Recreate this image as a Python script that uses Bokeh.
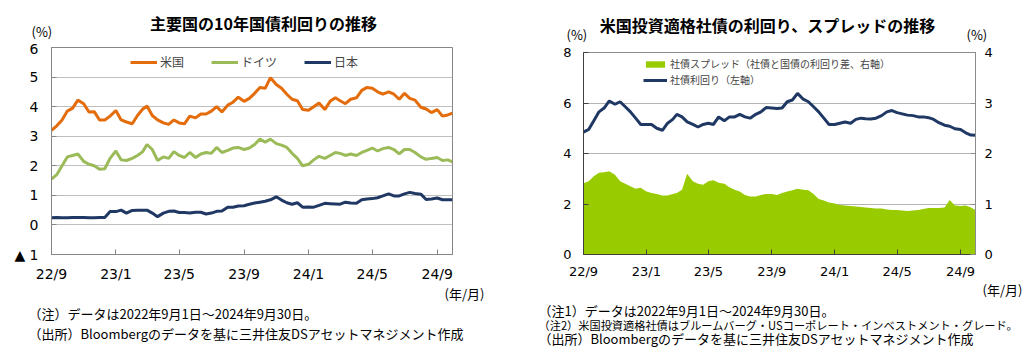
from datetime import date
from bokeh.plotting import figure
from bokeh.models import (Range1d, LinearAxis, FixedTicker, Label, Legend,
                          LegendItem, ColumnDataSource)
from bokeh.layouts import row, column
from bokeh.embed import file_html
from bokeh.resources import INLINE

# ---------------- data ----------------
START = date(2022, 9, 1)
months = [(2022, m) for m in range(9, 13)] + [(2023, m) for m in range(1, 13)] + [(2024, m) for m in range(1, 10)]
sample_dates = [date(y, m, d) for (y, m) in months for d in (1, 11, 21)] + [date(2024, 9, 30)]

us_10y = [3.20, 3.35, 3.55, 3.85, 3.95, 4.22, 4.10, 3.82, 3.83, 3.55, 3.55, 3.68,
          3.87, 3.55, 3.48, 3.42, 3.70, 3.92, 4.02, 3.70, 3.55, 3.45, 3.40, 3.55,
          3.45, 3.42, 3.68, 3.62, 3.75, 3.75, 3.85, 4.00, 3.82, 4.05, 4.15, 4.32,
          4.18, 4.28, 4.45, 4.65, 4.62, 4.98, 4.75, 4.62, 4.42, 4.25, 4.20, 3.90,
          3.88, 4.00, 4.12, 3.90, 4.18, 4.30, 4.20, 4.10, 4.25, 4.30, 4.55, 4.65,
          4.62, 4.50, 4.42, 4.50, 4.42, 4.25, 4.45, 4.28, 4.22, 3.98, 3.92, 3.80,
          3.90, 3.68, 3.72, 3.78]
de_10y = [1.55, 1.70, 2.00, 2.30, 2.35, 2.40, 2.15, 2.05, 2.00, 1.88, 1.90, 2.25,
          2.50, 2.20, 2.18, 2.25, 2.35, 2.48, 2.72, 2.55, 2.18, 2.30, 2.25, 2.48,
          2.35, 2.28, 2.45, 2.28, 2.40, 2.45, 2.42, 2.62, 2.45, 2.52, 2.60, 2.62,
          2.55, 2.60, 2.72, 2.90, 2.80, 2.90, 2.75, 2.70, 2.62, 2.42, 2.25, 2.00,
          2.05, 2.20, 2.32, 2.25, 2.35, 2.45, 2.42, 2.35, 2.40, 2.35, 2.45, 2.52,
          2.60, 2.50, 2.58, 2.62, 2.55, 2.40, 2.55, 2.55, 2.45, 2.30, 2.22, 2.25,
          2.28, 2.18, 2.20, 2.13]
jp_10y = [0.24, 0.25, 0.24, 0.24, 0.25, 0.25, 0.25, 0.24, 0.24, 0.25, 0.25, 0.45,
          0.45, 0.50, 0.40, 0.49, 0.50, 0.50, 0.50, 0.40, 0.28, 0.40, 0.46, 0.47,
          0.42, 0.42, 0.40, 0.43, 0.43, 0.37, 0.40, 0.46, 0.47, 0.60, 0.60, 0.64,
          0.65, 0.70, 0.74, 0.77, 0.80, 0.85, 0.95, 0.84, 0.75, 0.70, 0.75, 0.60,
          0.61, 0.60, 0.66, 0.73, 0.72, 0.71, 0.70, 0.77, 0.74, 0.73, 0.85, 0.88,
          0.89, 0.92, 0.98, 1.05, 0.98, 0.98, 1.05, 1.10, 1.06, 1.04, 0.86, 0.88,
          0.91, 0.85, 0.85, 0.85]
corp_yield = [4.85, 4.95, 5.30, 5.65, 5.80, 6.08, 5.95, 6.05, 5.85, 5.65, 5.40, 5.15,
              5.15, 5.15, 5.00, 4.92, 5.20, 5.35, 5.55, 5.45, 5.25, 5.15, 5.05, 5.15,
              5.20, 5.15, 5.45, 5.30, 5.45, 5.45, 5.55, 5.45, 5.40, 5.55, 5.65, 5.82,
              5.80, 5.78, 5.80, 6.05, 6.12, 6.38, 6.15, 6.05, 5.85, 5.65, 5.40, 5.15,
              5.15, 5.20, 5.25, 5.20, 5.35, 5.40, 5.38, 5.37, 5.40, 5.50, 5.65, 5.70,
              5.62, 5.57, 5.52, 5.50, 5.45, 5.45, 5.42, 5.35, 5.22, 5.12, 5.08, 4.98,
              4.95, 4.82, 4.73, 4.72]
spread = [1.41, 1.45, 1.55, 1.62, 1.63, 1.65, 1.58, 1.45, 1.40, 1.35, 1.30, 1.32,
          1.25, 1.22, 1.20, 1.17, 1.17, 1.20, 1.22, 1.28, 1.60, 1.45, 1.40, 1.38,
          1.45, 1.47, 1.42, 1.40, 1.33, 1.28, 1.25, 1.18, 1.15, 1.15, 1.18, 1.20,
          1.20, 1.18, 1.22, 1.25, 1.27, 1.30, 1.28, 1.27, 1.20, 1.10, 1.07, 1.03,
          1.01, 0.98, 0.97, 0.96, 0.95, 0.94, 0.93, 0.92, 0.91, 0.91, 0.89, 0.88,
          0.88, 0.87, 0.86, 0.87, 0.88, 0.90, 0.92, 0.92, 0.92, 0.93, 1.08, 0.97,
          0.96, 0.97, 0.93, 0.88]

tick_dates = [date(2022, 9, 1), date(2023, 1, 1), date(2023, 5, 1), date(2023, 9, 1),
              date(2024, 1, 1), date(2024, 5, 1), date(2024, 9, 1)]
tick_labels = ["22/9", "23/1", "23/5", "23/9", "24/1", "24/5", "24/9"]
END = date(2024, 9, 30)

left_title = "主要国の10年国債利回りの推移"
right_title = "米国投資適格社債の利回り、スプレッドの推移"
left_notes = ["（注）データは2022年9月1日～2024年9月30日。",
              "（出所）Bloombergのデータを基に三井住友DSアセットマネジメント作成"]
right_notes = ["（注1）データは2022年9月1日～2024年9月30日。",
               "（注2）米国投資適格社債はブルームバーグ・USコーポレート・インベストメント・グレード。",
               "（出所）Bloombergのデータを基に三井住友DSアセットマネジメント作成"]

# ---------------- helpers ----------------
JP = "Noto Sans CJK JP"
NUM = "DejaVu Sans"

xs = [(d - START).days for d in sample_dates]
tick_x = [(d - START).days for d in tick_dates]
x_end = (END - START).days

src = ColumnDataSource(dict(x=xs, us=us_10y, de=de_10y, jp=jp_10y,
                            corp=corp_yield, spread=spread))


def text_strip(width, height):
    """A figure whose frame fills the whole canvas; y counts pixels from its top."""
    s = figure(width=width, height=height, x_range=Range1d(0, width), y_range=Range1d(height, 0),
               output_backend="svg", toolbar_location=None, frame_align=False,
               x_axis_location=None, y_axis_location=None,
               min_border_left=0, min_border_right=0, min_border_top=0, min_border_bottom=0)
    s.outline_line_color = None
    s.xgrid.visible = False
    s.ygrid.visible = False
    return s


def add_text(s, x, y, text, size, font=JP, bold=False, align="left"):
    s.add_layout(Label(x=x, y=y, text=text, text_font=font, text_font_size=size,
                       text_font_style="bold" if bold else "normal",
                       text_align=align, text_baseline="middle", text_color="#000000"))


def style_axis(ax, line_color, size, standoff):
    ax.axis_line_color = line_color
    ax.major_tick_line_color = line_color
    ax.major_tick_in = 5
    ax.major_tick_out = 0
    ax.minor_tick_line_color = None
    ax.major_label_text_font = NUM
    ax.major_label_text_font_size = size
    ax.major_label_text_color = "#000000"
    ax.major_label_standoff = standoff


# ---------------- left chart ----------------
L_W = 520
L_TOP_H, L_BOT_H = 40, 68
p1 = figure(width=L_W, height=352 - L_TOP_H - L_BOT_H, x_range=Range1d(0, x_end),
            y_range=Range1d(-1, 6), output_backend="svg", toolbar_location=None, frame_align=False,
            min_border_left=51, min_border_right=68, min_border_top=7, min_border_bottom=30)
p1.outline_line_color = "#868686"
p1.xgrid.visible = False
p1.ygrid.grid_line_color = "#BFBFBF"
p1.ygrid.ticker = FixedTicker(ticks=[0, 1, 2, 3, 4, 5])
p1.yaxis.ticker = FixedTicker(ticks=[-1, 0, 1, 2, 3, 4, 5, 6])
p1.yaxis.major_label_overrides = {-1: "▲ 1"}
p1.xaxis.ticker = FixedTicker(ticks=tick_x)
p1.xaxis.major_label_overrides = dict(zip(tick_x, tick_labels))
style_axis(p1.yaxis[0], "#868686", "14px", 13)
style_axis(p1.xaxis[0], "#868686", "14px", 11)

r_jp = p1.line("x", "jp", source=src, line_color="#203864", line_width=3)
r_de = p1.line("x", "de", source=src, line_color="#9BBB59", line_width=3)
r_us = p1.line("x", "us", source=src, line_color="#E46C0A", line_width=3)

leg1 = Legend(items=[LegendItem(label="米国", renderers=[r_us]),
                     LegendItem(label="ドイツ", renderers=[r_de]),
                     LegendItem(label="日本", renderers=[r_jp])],
              orientation="horizontal", location=(79, 184), glyph_width=27, glyph_height=16,
              label_height=16, label_standoff=3, spacing=27, padding=0, margin=0,
              label_text_font=JP, label_text_font_size="12px",
              border_line_alpha=0, background_fill_alpha=0)
p1.add_layout(leg1)

t1 = text_strip(L_W, L_TOP_H)
add_text(t1, 263, 22, left_title, "16px", bold=True, align="center")
add_text(t1, 31, 31, "(%)", "13px")

b1 = text_strip(L_W, L_BOT_H)
add_text(b1, 444, 9, "(年/月)", "13px")
add_text(b1, 28, 29, left_notes[0], "13px")
add_text(b1, 28, 49, left_notes[1], "13px")

# ---------------- right chart ----------------
R_W = 515
R_TOP_H, R_BOT_H = 44, 71
p2 = figure(width=R_W, height=352 - R_TOP_H - R_BOT_H, x_range=Range1d(0, x_end),
            y_range=Range1d(0, 8), output_backend="svg", toolbar_location=None, frame_align=False,
            min_border_left=63, min_border_right=60, min_border_top=8, min_border_bottom=26)
p2.extra_y_ranges = {"right": Range1d(0, 4)}
p2.outline_line_color = "#8C8C8C"
p2.xgrid.visible = False
p2.ygrid.grid_line_color = "#B4B4B4"
p2.ygrid.ticker = FixedTicker(ticks=[2, 4, 6])
p2.yaxis.ticker = FixedTicker(ticks=[0, 2, 4, 6, 8])
p2.xaxis.ticker = FixedTicker(ticks=tick_x)
p2.xaxis.major_label_overrides = dict(zip(tick_x, tick_labels))
style_axis(p2.yaxis[0], "#404040", "13px", 12)
style_axis(p2.xaxis[0], "#404040", "13px", 9)
ax_r = LinearAxis(y_range_name="right", ticker=FixedTicker(ticks=[0, 1, 2, 3, 4]))
style_axis(ax_r, "#8C8C8C", "13px", 9)
p2.add_layout(ax_r, "right")

r_area = p2.varea(x="x", y1=0, y2="spread", source=src, y_range_name="right",
                  fill_color="#99CC00")
r_corp = p2.line("x", "corp", source=src, line_color="#203864", line_width=3)

leg2 = Legend(items=[LegendItem(label="社債スプレッド（社債と国債の利回り差、右軸）", renderers=[r_area]),
                     LegendItem(label="社債利回り（左軸）", renderers=[r_corp])],
              orientation="vertical", location=(60, 167), glyph_width=24, glyph_height=8,
              label_height=8, label_standoff=3, spacing=1, padding=0, margin=0,
              label_text_font=JP, label_text_font_size="10px",
              border_line_alpha=0, background_fill_alpha=0)
p2.add_layout(leg2)

t2 = text_strip(R_W, R_TOP_H)
add_text(t2, 247, 24, right_title, "16px", bold=True, align="center")
add_text(t2, 46, 34, "(%)", "13px")
add_text(t2, 446, 34, "(%)", "13px")

b2 = text_strip(R_W, R_BOT_H)
add_text(b2, 462, 8, "(年/月)", "13px")
add_text(b2, 18, 29, right_notes[0], "13px")
add_text(b2, 18, 43, right_notes[1], "11.2px")
add_text(b2, 18, 57, right_notes[2], "13px")

layout = row(column(t1, p1, b1), column(t2, p2, b2))
open("out.html", "w").write(file_html(layout, INLINE))
